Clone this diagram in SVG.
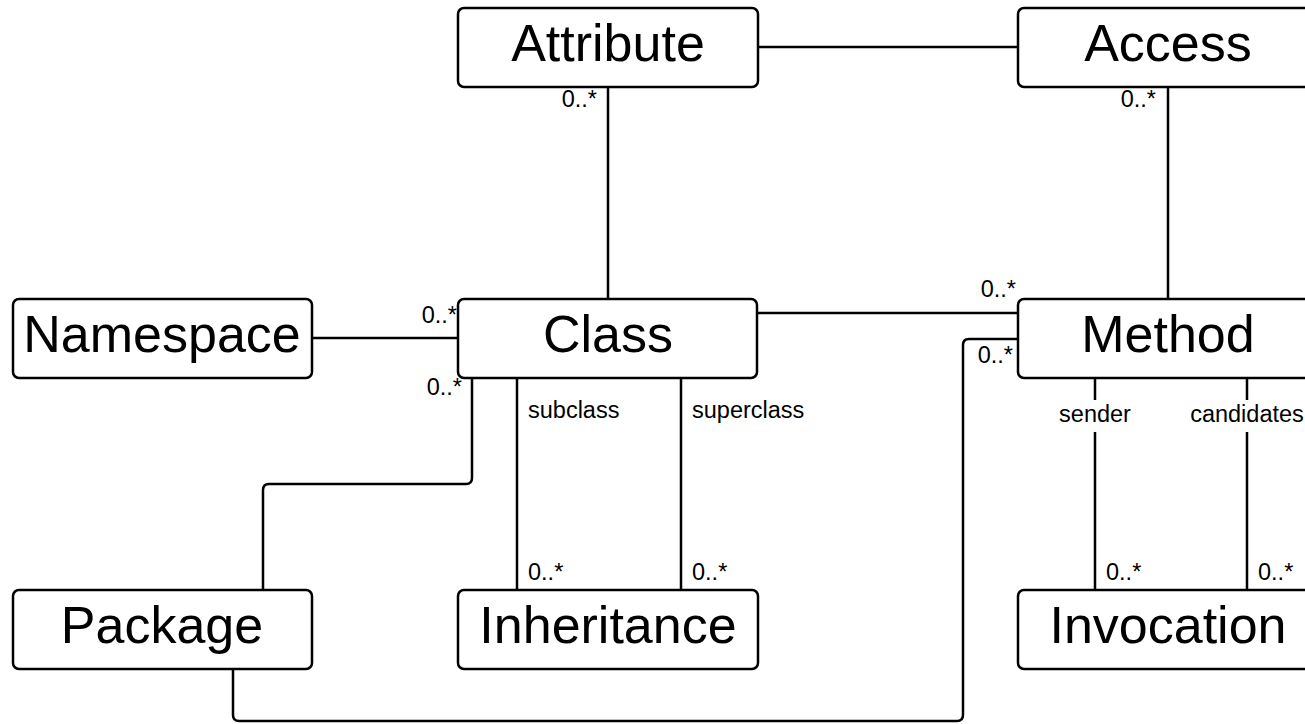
<svg xmlns="http://www.w3.org/2000/svg" width="1305" height="724" viewBox="0 0 1305 724">
<style>
.box{fill:#fff;stroke:#000;stroke-width:2.5}
.nt{font-family:"Liberation Sans",Arial,sans-serif;font-size:52px;fill:#000;text-anchor:middle}
.lb{font-family:"Liberation Sans",Arial,sans-serif;font-size:23.5px;fill:#000}
.ln{fill:none;stroke:#000;stroke-width:2.5}
</style>
<rect width="1305" height="724" fill="#fff"/>
<g id="connectors">
<path class="ln" d="M758,47 H1018"/>
<path class="ln" d="M608,87 V299"/>
<path class="ln" d="M1168,87 V299"/>
<path class="ln" d="M312,338 H458"/>
<path class="ln" d="M757,313 H1018"/>
<path class="ln" d="M472,378 V478 Q472,484 466,484 H269 Q263,484 263,490 V590"/>
<path class="ln" d="M233,669 V715 Q233,721 239,721 H957 Q963,721 963,715 V345 Q963,339 969,339 H1018"/>
<path class="ln" d="M517,378 V590"/>
<path class="ln" d="M681,378 V590"/>
<path class="ln" d="M1095,378 V400 M1095,432 V590"/>
<path class="ln" d="M1247,378 V400 M1247,432 V590"/>
<text class="lb" x="597" y="107" text-anchor="end">0..*</text>
<text class="lb" x="1156" y="107" text-anchor="end">0..*</text>
<text class="lb" x="457" y="323" text-anchor="end">0..*</text>
<text class="lb" x="462" y="395" text-anchor="end">0..*</text>
<text class="lb" x="1016" y="297" text-anchor="end">0..*</text>
<text class="lb" x="1013" y="363" text-anchor="end">0..*</text>
<text class="lb" x="528" y="418">subclass</text>
<text class="lb" x="692" y="418">superclass</text>
<text class="lb" x="528" y="580">0..*</text>
<text class="lb" x="692" y="580">0..*</text>
<text class="lb" x="1106" y="580">0..*</text>
<text class="lb" x="1258" y="580">0..*</text>
<text class="lb" x="1095" y="422" text-anchor="middle">sender</text>
<text class="lb" x="1247" y="422" text-anchor="middle">candidates</text>
</g>
<g id="attribute"><rect class="box" x="458" y="8" width="300" height="79" rx="6"/><text class="nt" x="608" y="61">Attribute</text></g>
<g id="access"><rect class="box" x="1018" y="8" width="300" height="79" rx="6"/><text class="nt" x="1168" y="61">Access</text></g>
<g id="namespace"><rect class="box" x="13" y="299" width="299" height="79" rx="6"/><text class="nt" x="162" y="352">Namespace</text></g>
<g id="class"><rect class="box" x="458" y="299" width="299" height="79" rx="6"/><text class="nt" x="608" y="352">Class</text></g>
<g id="method"><rect class="box" x="1018" y="299" width="300" height="79" rx="6"/><text class="nt" x="1168" y="352">Method</text></g>
<g id="package"><rect class="box" x="13" y="590" width="299" height="79" rx="6"/><text class="nt" x="162" y="643">Package</text></g>
<g id="inheritance"><rect class="box" x="458" y="590" width="300" height="79" rx="6"/><text class="nt" x="608" y="643">Inheritance</text></g>
<g id="invocation"><rect class="box" x="1018" y="590" width="300" height="79" rx="6"/><text class="nt" x="1168" y="643">Invocation</text></g>
</svg>
